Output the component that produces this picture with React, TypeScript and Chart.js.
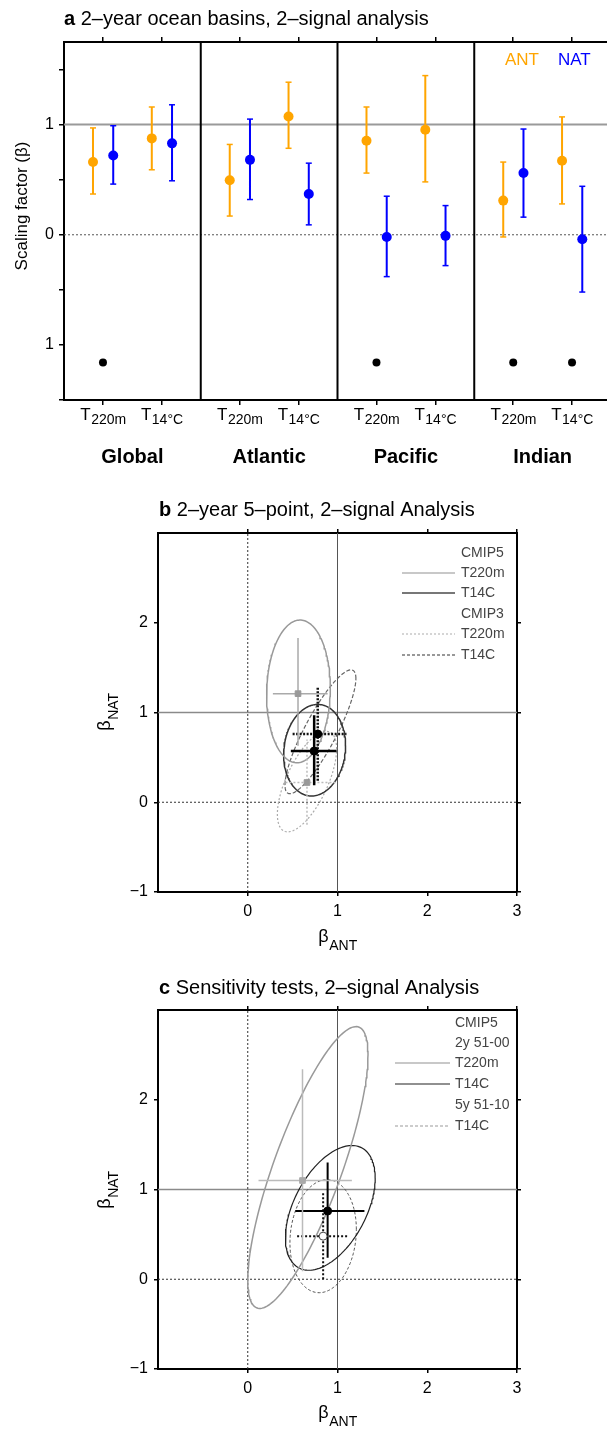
import React, { useEffect, useRef } from 'react';
import { Chart, registerables } from 'chart.js';
Chart.register(...registerables);

const FONT = '"Liberation Sans", Arial, Helvetica, sans-serif';
Chart.defaults.font.family = FONT;

// ---------------- Panel a data ----------------
const A_REGIONS = ['Global', 'Atlantic', 'Pacific', 'Indian'];
const A_VAR_SUB = ['220m', '14°C'];
// order: Global T220m, Global T14C, Atlantic T220m, Atlantic T14C, Pacific ..., Indian ...
const ANT_BEST = [0.66, 0.875, 0.495, 1.074, 0.853, 0.953, 0.31, 0.672];
const ANT_LOW = [0.37, 0.59, 0.17, 0.785, 0.56, 0.48, -0.02, 0.28];
const ANT_HIGH = [0.97, 1.16, 0.82, 1.385, 1.16, 1.445, 0.66, 1.07];
const NAT_BEST = [0.72, 0.83, 0.68, 0.37, -0.02, -0.01, 0.56, -0.04];
const NAT_LOW = [0.46, 0.49, 0.32, 0.09, -0.38, -0.28, 0.16, -0.52];
const NAT_HIGH = [0.99, 1.18, 1.05, 0.65, 0.35, 0.265, 0.96, 0.44];
const A_DOT_SLOTS = [0, 4, 6, 7];
const A_DOT_Y = -1.16;
const A_Y_TICKS = [-1.5, -1, -0.5, 0, 0.5, 1, 1.5];
const A_Y_LABELS: Record<string, string> = { '-1': '1', '0': '0', '1': '1' };
const A_DIVIDERS = [1, 2, 3];

// ---------------- Panel b data ----------------
// [CMIP5 T220m, CMIP5 T14C, CMIP3 T220m, CMIP3 T14C]
const B_BEST = [[0.56, 1.21], [0.74, 0.57], [0.66, 0.22], [0.78, 0.76]];
const B_XRANGE = [[0.28, 0.89], [0.48, 0.99], [0.42, 0.98], [0.50, 1.10]];
const B_YRANGE = [[0.63, 1.83], [0.19, 0.97], [-0.25, 0.70], [0.24, 1.29]];
// ellipse: [centre x, centre y, half x-extent, half y-extent, correlation]
const B_ELLIPSE = [
  [0.565, 1.235, 0.355, 0.795, 0.05],
  [0.745, 0.58, 0.345, 0.51, 0.1],
  [0.66, 0.23, 0.33, 0.56, 0.65],
  [0.81, 0.785, 0.395, 0.69, 0.86],
];
const B_LEGEND = ['CMIP5', 'T220m', 'T14C', 'CMIP3', 'T220m', 'T14C'];

// ---------------- Panel c data ----------------
// [CMIP5 2y T220m, CMIP5 2y T14C, 5y 51-10 T14C]
const C_BEST = [[0.61, 1.10], [0.89, 0.76], [0.84, 0.48]];
const C_XRANGE = [[0.12, 1.16], [0.53, 1.30], [0.55, 1.12]];
const C_YRANGE = [[0.09, 2.34], [0.24, 1.30], [0.0, 0.97]];
const C_ELLIPSE = [
  [0.67, 1.245, 0.67, 1.57, 0.80],
  [0.92, 0.795, 0.50, 0.695, 0.48],
  [0.84, 0.48, 0.37, 0.63, 0.12],
];
const C_LEGEND = ['CMIP5', '2y 51-00', 'T220m', 'T14C', '5y 51-10', 'T14C'];

const XY_TICKS = [0, 1, 2, 3];
const XY_YTICKS = [-1, 0, 1, 2];

// ---------------- styles ----------------
const ORANGE = '#ffa500';
const BLUE = '#0000ff';
const A_SLOT = [0.285, 0.715];
const A_OFF = [-0.073, 0.075];

const slotX = (i: number) => Math.floor(i / 2) + A_SLOT[i % 2];

function ellipsePts(p: number[]) {
  const [cx, cy, sx, sy, rho] = p;
  const q = Math.sqrt(1 - rho * rho);
  const pts: any[] = [];
  const n = 160;
  for (let k = 0; k <= n; k++) {
    const t = (2 * Math.PI * k) / n;
    pts.push({ x: cx + sx * Math.cos(t), y: cy + sy * (rho * Math.cos(t) + q * Math.sin(t)) });
  }
  return pts;
}

function crossPts(best: number[], xr: number[], yr: number[]) {
  return [
    { x: xr[0], y: best[1] }, { x: xr[1], y: best[1] }, { x: best[0], y: null },
    { x: best[0], y: yr[0] }, { x: best[0], y: yr[1] },
  ];
}

const lineDs = (data: any[], color: string, width: number, dash: number[] = [], order = 5) => ({
  data, borderColor: color, borderWidth: width, borderDash: dash, pointRadius: 0,
  pointHoverRadius: 0, fill: false, order, showLine: true, spanGaps: false,
});

function txt(ctx: CanvasRenderingContext2D, s: string, x: number, y: number, font: string, color: string, align: CanvasTextAlign = 'left', base: CanvasTextBaseline = 'alphabetic') {
  ctx.save();
  ctx.font = font; ctx.fillStyle = color; ctx.textAlign = align; ctx.textBaseline = base;
  ctx.fillText(s, x, y);
  ctx.restore();
}

// main text with subscript, centered at cx (horizontal)
function subText(ctx: CanvasRenderingContext2D, main: string, sub: string, cx: number, base: number, mainPx: number, subPx: number, drop: number, color = '#000') {
  ctx.save();
  ctx.fillStyle = color;
  ctx.textBaseline = 'alphabetic';
  ctx.textAlign = 'left';
  ctx.font = `${mainPx}px ${FONT}`;
  const wm = ctx.measureText(main).width;
  ctx.font = `${subPx}px ${FONT}`;
  const ws = ctx.measureText(sub).width;
  const x0 = cx - (wm + ws) / 2;
  ctx.font = `${mainPx}px ${FONT}`;
  ctx.fillText(main, x0, base);
  ctx.font = `${subPx}px ${FONT}`;
  ctx.fillText(sub, x0 + wm + 0.5, base + drop);
  ctx.restore();
}

const axisCommon = (tickLen: number) => ({
  grid: { display: true, drawOnChartArea: false, drawTicks: true, tickLength: tickLen, color: '#000', lineWidth: 1.5 },
  border: { display: true, color: '#000', width: 2 },
});

// ---------------- Panel a config ----------------
function configA(): any {
  const tickX = [0, 1, 2, 3, 4, 5, 6, 7].map(slotX);
  const errData = (lo: number[], hi: number[], off: number) =>
    lo.flatMap((_, i) => [{ x: slotX(i) + off, y: lo[i] }, { x: slotX(i) + off, y: hi[i] }, { x: slotX(i) + off, y: null }]);
  const divData = A_DIVIDERS.flatMap(d => [{ x: d, y: -1.5 }, { x: d, y: 1.75 }, { x: d, y: null }]);
  const datasets: any[] = [
    lineDs(divData, '#000', 2, [], 6),
    lineDs([{ x: 0, y: 1 }, { x: 4, y: 1 }], '#9a9a9a', 2, [], 7),
    lineDs([{ x: 0, y: 0 }, { x: 4, y: 0 }], '#555', 1, [2, 2], 7),
    {
      data: errData(ANT_LOW, ANT_HIGH, A_OFF[0]), borderColor: ORANGE, borderWidth: 2, pointStyle: 'line',
      pointRadius: 3, pointBorderColor: ORANGE, pointBorderWidth: 1.5, pointBackgroundColor: ORANGE, order: 3, spanGaps: false,
    },
    {
      data: errData(NAT_LOW, NAT_HIGH, A_OFF[1]), borderColor: BLUE, borderWidth: 2, pointStyle: 'line',
      pointRadius: 3, pointBorderColor: BLUE, pointBorderWidth: 1.5, pointBackgroundColor: BLUE, order: 3, spanGaps: false,
    },
    {
      data: ANT_BEST.map((v, i) => ({ x: slotX(i) + A_OFF[0], y: v })), showLine: false, pointRadius: 5,
      pointBackgroundColor: ORANGE, pointBorderColor: ORANGE, pointBorderWidth: 0, order: 1,
    },
    {
      data: NAT_BEST.map((v, i) => ({ x: slotX(i) + A_OFF[1], y: v })), showLine: false, pointRadius: 5,
      pointBackgroundColor: BLUE, pointBorderColor: BLUE, pointBorderWidth: 0, order: 1,
    },
    {
      data: A_DOT_SLOTS.map(i => ({ x: slotX(i), y: A_DOT_Y })), showLine: false, pointRadius: 4,
      pointBackgroundColor: '#000', pointBorderColor: '#000', pointBorderWidth: 0, order: 1,
    },
  ];
  const plugin = {
    id: 'annotA',
    afterDraw(chart: any) {
      const ctx = chart.ctx as CanvasRenderingContext2D;
      const xs = chart.scales.x;
      // title
      ctx.save();
      ctx.font = `bold 20px ${FONT}`;
      const wa = ctx.measureText('a').width;
      ctx.restore();
      txt(ctx, 'a', 64, 25, `bold 20px ${FONT}`, '#000');
      txt(ctx, ' 2–year ocean basins, 2–signal analysis', 64 + wa, 25, `20px ${FONT}`, '#000');
      // x labels with subscript
      tickX.forEach((v, i) => {
        subText(ctx, 'T', A_VAR_SUB[i % 2], xs.getPixelForValue(v), 420, 17, 14, 4);
      });
      A_REGIONS.forEach((r, i) => {
        txt(ctx, r, xs.getPixelForValue(i + 0.5), 463, `bold 20px ${FONT}`, '#000', 'center');
      });
      // legend
      txt(ctx, 'ANT', 505, 65, `17px ${FONT}`, ORANGE);
      txt(ctx, 'NAT', 558, 65, `17px ${FONT}`, BLUE);
      // y title
      ctx.save();
      ctx.translate(22, 206);
      ctx.rotate(-Math.PI / 2);
      txt(ctx, 'Scaling factor (β)', 0, 0, `17px ${FONT}`, '#000', 'center', 'middle');
      ctx.restore();
    },
  };
  return {
    type: 'line',
    data: { datasets },
    options: {
      responsive: false, animation: false, devicePixelRatio: 1, events: [],
      layout: { padding: { left: 0, right: 49, top: 37, bottom: 65 } },
      plugins: { legend: { display: false }, tooltip: { enabled: false } },
      scales: {
        x: {
          type: 'linear', position: 'bottom', min: 0, max: 4, ...axisCommon(5),
          afterBuildTicks: (s: any) => { s.ticks = tickX.map(v => ({ value: v })); },
          afterFit: (s: any) => { s.height = 5; },
          ticks: { display: false },
        },
        xTop: {
          type: 'linear', position: 'top', min: 0, max: 4, ...axisCommon(5),
          afterBuildTicks: (s: any) => { s.ticks = tickX.map(v => ({ value: v })); },
          afterFit: (s: any) => { s.height = 5; },
          ticks: { display: false },
        },
        y: {
          type: 'linear', position: 'left', min: -1.5, max: 1.75, ...axisCommon(5),
          afterBuildTicks: (s: any) => { s.ticks = A_Y_TICKS.map(v => ({ value: v })); },
          afterFit: (s: any) => { s.width = 64; },
          ticks: {
            font: { size: 16, family: FONT }, color: '#000', padding: 5,
            callback: (v: any) => A_Y_LABELS[String(v)] ?? '',
          },
        },
      },
    },
    plugins: [plugin],
  };
}

// ---------------- Panels b / c ----------------
function xyScales(padBottomH: number) {
  const fmt = (v: any) => (v < 0 ? '−' + Math.abs(v) : String(v));
  return {
    x: {
      type: 'linear', position: 'bottom', min: -1, max: 3, ...axisCommon(4),
      afterBuildTicks: (s: any) => { s.ticks = XY_TICKS.map(v => ({ value: v })); },
      afterFit: (s: any) => { s.height = padBottomH; },
      ticks: { font: { size: 16, family: FONT }, color: '#000', padding: 6, callback: fmt },
    },
    xTop: {
      type: 'linear', position: 'top', min: -1, max: 3, ...axisCommon(4),
      afterBuildTicks: (s: any) => { s.ticks = XY_TICKS.map(v => ({ value: v })); },
      afterFit: (s: any) => { s.height = 4; },
      ticks: { display: false },
    },
    y: {
      type: 'linear', position: 'left', min: -1, max: 3, ...axisCommon(4),
      afterBuildTicks: (s: any) => { s.ticks = XY_YTICKS.map(v => ({ value: v })); },
      afterFit: (s: any) => { s.width = 158; },
      ticks: { font: { size: 16, family: FONT }, color: '#000', padding: 6, callback: fmt },
    },
    yRight: {
      type: 'linear', position: 'right', min: -1, max: 3, ...axisCommon(4),
      afterBuildTicks: (s: any) => { s.ticks = XY_YTICKS.map(v => ({ value: v })); },
      afterFit: (s: any) => { s.width = 4; },
      ticks: { display: false },
    },
  };
}

function refLines() {
  return [
    lineDs([{ x: 0, y: -1 }, { x: 0, y: 3 }], '#333', 1, [2, 2], 9),
    lineDs([{ x: 1, y: -1 }, { x: 1, y: 3 }], '#555', 1, [], 9),
    lineDs([{ x: -1, y: 1 }, { x: 3, y: 1 }], '#8a8a8a', 1.5, [], 9),
    lineDs([{ x: -1, y: 0 }, { x: 3, y: 0 }], '#333', 1, [2, 2], 9),
  ];
}

type Sty = { ell: string; ellW: number; ellDash: number[]; bar: string; barW: number; barDash: number[]; mk: string; mkFill: string; mkR: number; mkBorder: string; leg: string; legW: number; legDash: number[] };

const B_STY: Sty[] = [
  { ell: '#999', ellW: 1.5, ellDash: [], bar: '#aaa', barW: 1.5, barDash: [], mk: 'rect', mkFill: '#999', mkR: 4, mkBorder: '#999', leg: '#c8c8c8', legW: 2, legDash: [] },
  { ell: '#333', ellW: 1.5, ellDash: [], bar: '#000', barW: 2.5, barDash: [], mk: 'circle', mkFill: '#000', mkR: 4, mkBorder: '#000', leg: '#777', legW: 2, legDash: [] },
  { ell: '#aaa', ellW: 1.2, ellDash: [2, 2], bar: '#bbb', barW: 1.5, barDash: [2, 2], mk: 'rect', mkFill: '#999', mkR: 4, mkBorder: '#999', leg: '#c8c8c8', legW: 1.5, legDash: [2, 2] },
  { ell: '#666', ellW: 1.2, ellDash: [4, 2], bar: '#111', barW: 2.5, barDash: [2, 1.5], mk: 'circle', mkFill: '#000', mkR: 4, mkBorder: '#000', leg: '#777', legW: 1.5, legDash: [3, 2] },
];
const C_STY: Sty[] = [
  { ell: '#999', ellW: 1.5, ellDash: [], bar: '#bbb', barW: 1.5, barDash: [], mk: 'rect', mkFill: '#aaa', mkR: 4, mkBorder: '#aaa', leg: '#c8c8c8', legW: 2, legDash: [] },
  { ell: '#222', ellW: 1.2, ellDash: [], bar: '#000', barW: 2, barDash: [], mk: 'circle', mkFill: '#000', mkR: 4, mkBorder: '#000', leg: '#222', legW: 1.2, legDash: [] },
  { ell: '#555', ellW: 1, ellDash: [3, 2], bar: '#111', barW: 2, barDash: [2, 2], mk: 'circle', mkFill: '#fff', mkR: 4, mkBorder: '#444', leg: '#999', legW: 1.2, legDash: [3, 2] },
];

function xyDatasets(best: number[][], xr: number[][], yr: number[][], ell: number[][], sty: Sty[]) {
  const ds: any[] = [...refLines()];
  best.forEach((b, i) => {
    const s = sty[i];
    ds.push(lineDs(ellipsePts(ell[i]), s.ell, s.ellW, s.ellDash, 6));
    ds.push(lineDs(crossPts(b, xr[i], yr[i]), s.bar, s.barW, s.barDash, 3));
    ds.push({
      data: [{ x: b[0], y: b[1] }], showLine: false, pointStyle: s.mk, pointRadius: s.mkR,
      pointBackgroundColor: s.mkFill, pointBorderColor: s.mkBorder, pointBorderWidth: 1, order: 1,
    });
  });
  return ds;
}

function xyPlugin(id: string, title: [string, string], titleBase: number, legend: string[], legStyle: (number | null)[], sty: Sty[], legX: number, legLine: [number, number], legY: number[], yTitleY: number, xTitleBase: number) {
  return {
    id,
    afterDraw(chart: any) {
      const ctx = chart.ctx as CanvasRenderingContext2D;
      ctx.save();
      ctx.font = `bold 20px ${FONT}`;
      const wb = ctx.measureText(title[0]).width;
      ctx.restore();
      txt(ctx, title[0], 159, titleBase, `bold 20px ${FONT}`, '#000');
      txt(ctx, title[1], 159 + wb, titleBase, `20px ${FONT}`, '#000');
      legend.forEach((t, i) => {
        const si = legStyle[i];
        if (si !== null) {
          const s = sty[si];
          ctx.save();
          ctx.strokeStyle = s.leg; ctx.lineWidth = s.legW; ctx.setLineDash(s.legDash);
          ctx.beginPath(); ctx.moveTo(legLine[0], legY[i]); ctx.lineTo(legLine[1], legY[i]); ctx.stroke();
          ctx.restore();
        }
        txt(ctx, t, legX, legY[i], `14px ${FONT}`, '#444', 'left', 'middle');
      });
      // axis titles
      subText(ctx, 'β', 'ANT', chart.scales.x.getPixelForValue(1), xTitleBase, 18, 14, 8);
      ctx.save();
      ctx.translate(110, yTitleY);
      ctx.rotate(-Math.PI / 2);
      subText(ctx, 'β', 'NAT', 0, 0, 18, 14, 8);
      ctx.restore();
    },
  };
}

function configB(): any {
  return {
    type: 'line',
    data: { datasets: xyDatasets(B_BEST, B_XRANGE, B_YRANGE, B_ELLIPSE, B_STY) },
    options: {
      responsive: false, animation: false, devicePixelRatio: 1, events: [],
      layout: { padding: { left: 0, right: 86, top: 59, bottom: 18 } },
      plugins: { legend: { display: false }, tooltip: { enabled: false } },
      scales: xyScales(50),
    },
    plugins: [xyPlugin('annotB', ['b', ' 2–year 5–point, 2–signal Analysis'], 46, B_LEGEND, [null, 0, 1, null, 2, 3], B_STY, 461, [402, 455], [83, 103, 123, 144, 164, 185], 242, 472)],
  };
}

function configC(): any {
  return {
    type: 'line',
    data: { datasets: xyDatasets(C_BEST, C_XRANGE, C_YRANGE, C_ELLIPSE, C_STY) },
    options: {
      responsive: false, animation: false, devicePixelRatio: 1, events: [],
      layout: { padding: { left: 0, right: 86, top: 46, bottom: 10 } },
      plugins: { legend: { display: false }, tooltip: { enabled: false } },
      scales: xyScales(50),
    },
    plugins: [xyPlugin('annotC', ['c', ' Sensitivity tests, 2–signal Analysis'], 34, C_LEGEND, [null, null, 0, 1, null, 2], C_STY, 455, [395, 450], [63, 83, 103, 124, 145, 166], 230, 458)],
  };
}

export default function App() {
  const a = useRef<HTMLCanvasElement>(null);
  const b = useRef<HTMLCanvasElement>(null);
  const c = useRef<HTMLCanvasElement>(null);
  useEffect(() => {
    const charts = [
      new Chart(a.current as HTMLCanvasElement, configA()),
      new Chart(b.current as HTMLCanvasElement, configB()),
      new Chart(c.current as HTMLCanvasElement, configC()),
    ];
    return () => charts.forEach(ch => ch.destroy());
  }, []);
  return (
    <div style={{ position: 'absolute', left: 0, top: 0, width: 607, height: 1429, overflow: 'hidden', background: '#fff' }}>
      <canvas ref={a} width={660} height={470} style={{ position: 'absolute', left: 0, top: 0, width: 660, height: 470 }} />
      <canvas ref={b} width={607} height={490} style={{ position: 'absolute', left: 0, top: 470, width: 607, height: 490 }} />
      <canvas ref={c} width={607} height={469} style={{ position: 'absolute', left: 0, top: 960, width: 607, height: 469 }} />
    </div>
  );
}
